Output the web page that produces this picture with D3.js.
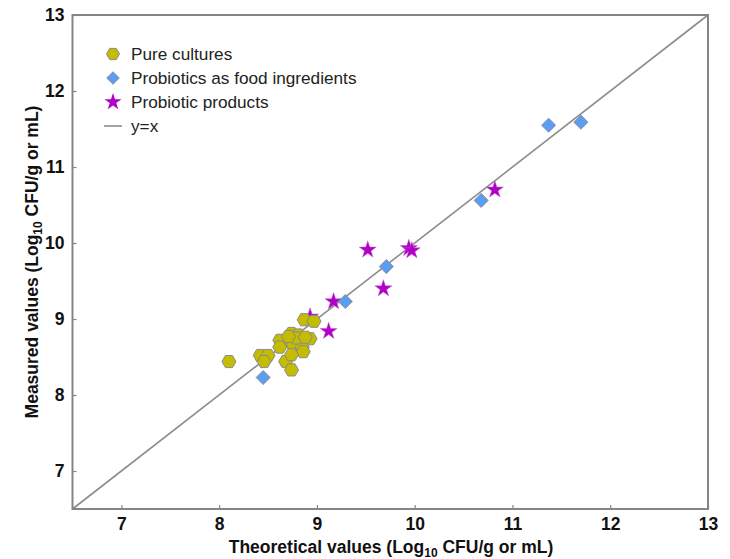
<!DOCTYPE html>
<html>
<head>
<meta charset="utf-8">
<script src="https://cdn.jsdelivr.net/npm/d3@7"></script>
<style>
  html, body { margin: 0; padding: 0; background: #fff; }
  svg text { font-family: "Liberation Sans", Arial, sans-serif; }
</style>
</head>
<body>
<svg id="chart" width="730" height="559"></svg>
<script>
// Pure cultures: [theoretical, measured]
const pureCultures = [
  [8.10, 8.44], [8.42, 8.52], [8.50, 8.52], [8.46, 8.44], [8.68, 8.44],
  [8.74, 8.33], [8.87, 8.99], [8.97, 8.97], [8.74, 8.81], [8.81, 8.79],
  [8.93, 8.74], [8.68, 8.70], [8.62, 8.72], [8.76, 8.66], [8.85, 8.63],
  [8.86, 8.57], [8.74, 8.53], [8.79, 8.75], [8.71, 8.77], [8.88, 8.76],
  [8.62, 8.63]
];
// Probiotics as food ingredients
const foodIngredients = [
  [8.45, 8.23], [9.29, 9.23], [9.71, 9.69], [10.68, 10.56],
  [11.37, 11.55], [11.70, 11.59]
];
// Probiotic products
const probioticProducts = [
  [8.93, 9.03], [9.52, 9.91], [9.94, 9.93], [9.97, 9.90],
  [9.68, 9.40], [9.17, 9.23], [9.12, 8.84], [10.82, 10.70]
];
const tickValues = [7, 8, 9, 10, 11, 12, 13];
const legendLabels = ["Pure cultures", "Probiotics as food ingredients", "Probiotic products", "y=x"];
const domainMin = 6.5, domainMax = 13;

const svg = d3.select("#chart");
const m = { left: 72.5, right: 708, top: 15, bottom: 509 };
const x = d3.scaleLinear().domain([domainMin, domainMax]).range([m.left, m.right]);
const y = d3.scaleLinear().domain([domainMin, domainMax]).range([m.bottom, m.top]);

const frameColor = "#858585";
const hexFill = "#c4bc00", diaFill = "#5b9df0", starFill = "#b000c6", markStroke = "#8a8a8a";

// y = x reference line
svg.append("line")
  .attr("x1", x(domainMin)).attr("y1", y(domainMin))
  .attr("x2", x(domainMax)).attr("y2", y(domainMax))
  .attr("stroke", "#8c8c8c").attr("stroke-width", 1.6);

// axes with inward ticks
const xAxis = svg.append("g").attr("transform", `translate(0,${m.bottom})`)
  .call(d3.axisBottom(x).tickValues(tickValues).tickSize(-4).tickPadding(9).tickFormat(d3.format("d")));
const yAxis = svg.append("g").attr("transform", `translate(${m.left},0)`)
  .call(d3.axisLeft(y).tickValues(tickValues).tickSize(-4).tickPadding(8).tickFormat(d3.format("d")));
[xAxis, yAxis].forEach(g => {
  g.select(".domain").remove();
  g.selectAll(".tick line").attr("stroke", frameColor).attr("stroke-width", 1.2);
  g.selectAll(".tick text").attr("font-size", 17.5).attr("font-weight", "bold").attr("fill", "#111");
});

// plot frame
svg.append("rect")
  .attr("x", m.left).attr("y", m.top)
  .attr("width", m.right - m.left).attr("height", m.bottom - m.top)
  .attr("fill", "none").attr("stroke", frameColor).attr("stroke-width", 2);

// markers
const hexPath = r => {
  const pts = d3.range(6).map(i => {
    const a = Math.PI / 3 * i;
    return [r * Math.cos(a), r * Math.sin(a)];
  });
  return "M" + pts.map(p => p.join(",")).join("L") + "Z";
};
const diamond = d3.symbol().type(d3.symbolSquare).size(100)();
const star = d3.symbol().type(d3.symbolStar).size(90)();

svg.append("g").selectAll("path").data(probioticProducts).join("path")
  .attr("d", star)
  .attr("transform", d => `translate(${x(d[0])},${y(d[1])})`)
  .attr("fill", starFill).attr("stroke", "#c060d0").attr("stroke-width", 0.5);

svg.append("g").selectAll("path").data(foodIngredients).join("path")
  .attr("d", diamond)
  .attr("transform", d => `translate(${x(d[0])},${y(d[1])}) rotate(45)`)
  .attr("fill", diaFill).attr("stroke", markStroke).attr("stroke-width", 0.8);

svg.append("g").selectAll("path").data(pureCultures).join("path")
  .attr("d", hexPath(7))
  .attr("transform", d => `translate(${x(d[0])},${y(d[1])})`)
  .attr("fill", hexFill).attr("stroke", markStroke).attr("stroke-width", 1);

// legend
const lg = svg.append("g");
const lx = 113, ly0 = 54, dy = 24;
legendLabels.forEach((t, i) => {
  const cy = ly0 + i * dy;
  if (i === 0) lg.append("path").attr("d", hexPath(6.5)).attr("transform", `translate(${lx},${cy})`)
    .attr("fill", hexFill).attr("stroke", markStroke);
  if (i === 1) lg.append("path").attr("d", d3.symbol().type(d3.symbolSquare).size(80)()).attr("transform", `translate(${lx},${cy}) rotate(45)`)
    .attr("fill", diaFill).attr("stroke", markStroke).attr("stroke-width", 0.8);
  if (i === 2) lg.append("path").attr("d", star).attr("transform", `translate(${lx},${cy})`)
    .attr("fill", starFill);
  if (i === 3) lg.append("line").attr("x1", lx - 9).attr("x2", lx + 9).attr("y1", cy).attr("y2", cy)
    .attr("stroke", "#8c8c8c").attr("stroke-width", 1.6);
  lg.append("text").attr("x", 131).attr("y", cy).attr("dy", "0.35em")
    .attr("font-size", 17.2).attr("fill", "#222").text(t);
});

// axis titles
const xt = svg.append("text").attr("x", 391).attr("y", 553).attr("text-anchor", "middle")
  .attr("font-size", 17.5).attr("font-weight", "bold").attr("fill", "#111");
xt.append("tspan").text("Theoretical values (Log");
xt.append("tspan").attr("font-size", 12).attr("dy", 4).text("10");
xt.append("tspan").attr("dy", -4).text(" CFU/g or mL)");

const yt = svg.append("text").attr("transform", "translate(38,262) rotate(-90)").attr("text-anchor", "middle")
  .attr("font-size", 17.5).attr("font-weight", "bold").attr("fill", "#111");
yt.append("tspan").text("Measured values (Log");
yt.append("tspan").attr("font-size", 12).attr("dy", 4).text("10");
yt.append("tspan").attr("dy", -4).text(" CFU/g or mL)");
</script>
</body>
</html>
